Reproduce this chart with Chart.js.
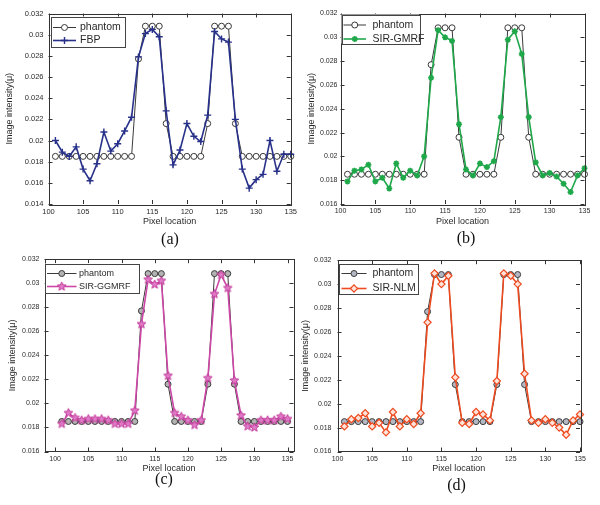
<!DOCTYPE html>
<html>
<head>
<meta charset="utf-8">
<script src="https://cdn.jsdelivr.net/npm/chart.js@4.4.0/dist/chart.umd.min.js"></script>
<style>
  body { margin: 0; background: #fff; width: 600px; height: 505px; position: relative; overflow: hidden; }
  canvas { position: absolute; }
</style>
</head>
<body>
<canvas id="panelA" width="300" height="250" style="left:0;top:0"></canvas>
<canvas id="panelB" width="300" height="250" style="left:300px;top:0"></canvas>
<canvas id="panelC" width="300" height="255" style="left:0;top:250px"></canvas>
<canvas id="panelD" width="300" height="255" style="left:300px;top:250px"></canvas>
<script>
// pixel positions along the profile
const pixelLoc = [101, 102, 103, 104, 105, 106, 107, 108, 109, 110, 111, 112, 113, 114, 115, 116, 117, 118,
  119, 120, 121, 122, 123, 124, 125, 126, 127, 128, 129, 130, 131, 132, 133, 134, 135];

const phantom = [0.0185, 0.0185, 0.0185, 0.0185, 0.0185, 0.0185, 0.0185, 0.0185, 0.0185, 0.0185, 0.0185, 0.0185,
  0.0277, 0.0308, 0.0308, 0.0308, 0.0216, 0.0185, 0.0185, 0.0185, 0.0185, 0.0185, 0.0216, 0.0308, 0.0308, 0.0308,
  0.0216, 0.0185, 0.0185, 0.0185, 0.0185, 0.0185, 0.0185, 0.0185, 0.0185];

const fbp = [0.0200, 0.0189, 0.0185, 0.0194, 0.0173, 0.0162, 0.0178, 0.0208, 0.0190, 0.0197, 0.0209, 0.0222,
  0.0279, 0.0301, 0.0305, 0.0298, 0.0228, 0.0177, 0.0191, 0.0216, 0.0204, 0.0199, 0.0224, 0.0303, 0.0296, 0.0293,
  0.0220, 0.0173, 0.0155, 0.0163, 0.0168, 0.0200, 0.0171, 0.0187, 0.0187];

const sirGmrf = [0.0179, 0.0188, 0.0189, 0.0193, 0.0179, 0.0182, 0.0173, 0.0194, 0.0182, 0.0188, 0.0184, 0.0200,
  0.0266, 0.0306, 0.0300, 0.0297, 0.0227, 0.0189, 0.0184, 0.0194, 0.0191, 0.0196, 0.0233, 0.0298, 0.0305, 0.0286,
  0.0233, 0.0195, 0.0184, 0.0186, 0.0183, 0.0177, 0.0170, 0.0184, 0.0190];

const sirGgmrf = [0.0183, 0.0192, 0.0188, 0.0186, 0.0187, 0.0187, 0.0187, 0.0186, 0.0183, 0.0183, 0.0183, 0.0194,
  0.0266, 0.0303, 0.0299, 0.0302, 0.0223, 0.0192, 0.0189, 0.0186, 0.0182, 0.0186, 0.0221, 0.0291, 0.0307, 0.0296,
  0.0219, 0.0190, 0.0181, 0.0180, 0.0186, 0.0186, 0.0186, 0.0189, 0.0187];

const sirNlm = [0.0181, 0.0187, 0.0188, 0.0192, 0.0181, 0.0184, 0.0176, 0.0193, 0.0181, 0.0187, 0.0183, 0.0192,
  0.0268, 0.0309, 0.0300, 0.0307, 0.0222, 0.0184, 0.0183, 0.0193, 0.0191, 0.0186, 0.0219, 0.0309, 0.0307, 0.0300,
  0.0225, 0.0186, 0.0184, 0.0187, 0.0184, 0.0180, 0.0174, 0.0186, 0.0191];

const xTicks = [100, 105, 110, 115, 120, 125, 130, 135];
const yTicksA = [0.014, 0.016, 0.018, 0.02, 0.022, 0.024, 0.026, 0.028, 0.03, 0.032];
const yTicksBCD = [0.016, 0.018, 0.02, 0.022, 0.024, 0.026, 0.028, 0.03, 0.032];

const TXT = '#2a2a2a';
const SANS = "'Liberation Sans', Arial, sans-serif";

// pentagram marker for SIR-GGMRF
function pentagram(r, fill, stroke) {
  const c = document.createElement('canvas');
  const s = Math.ceil(r * 2 + 3);
  c.width = s; c.height = s;
  const g = c.getContext('2d');
  g.beginPath();
  for (let i = 0; i < 10; i++) {
    const a = -Math.PI / 2 + i * Math.PI / 5;
    const rr = i % 2 ? r * 0.45 : r;
    g.lineTo(s / 2 + rr * Math.cos(a), s / 2 + rr * Math.sin(a));
  }
  g.closePath();
  g.fillStyle = fill; g.fill();
  g.strokeStyle = stroke; g.lineWidth = 1; g.stroke();
  return c;
}

function toPts(vals) {
  return pixelLoc.map((p, i) => ({ x: p, y: vals[i] }));
}

// axes box with inward ticks, legend box, caption
const matlabPlugin = {
  id: 'matlab',
  afterDraw(chart) {
    const o = chart.options.plugins.matlab;
    const ctx = chart.ctx;
    const a = chart.chartArea;
    const xs = chart.scales.x, ys = chart.scales.y;
    ctx.save();
    ctx.strokeStyle = '#333';
    ctx.lineWidth = 1;
    ctx.strokeRect(Math.round(a.left) + 0.5, Math.round(a.top) + 0.5,
      Math.round(a.right - a.left), Math.round(a.bottom - a.top));
    ctx.beginPath();
    xs.ticks.forEach(t => {
      const px = Math.round(xs.getPixelForValue(t.value)) + 0.5;
      ctx.moveTo(px, a.bottom); ctx.lineTo(px, a.bottom - 4);
      ctx.moveTo(px, a.top); ctx.lineTo(px, a.top + 4);
    });
    ys.ticks.forEach(t => {
      const py = Math.round(ys.getPixelForValue(t.value)) + 0.5;
      ctx.moveTo(a.left, py); ctx.lineTo(a.left + 4, py);
      ctx.moveTo(a.right, py); ctx.lineTo(a.right - 4, py);
    });
    ctx.stroke();

    // legend
    const L = o.legend;
    ctx.fillStyle = '#fff';
    ctx.fillRect(L.x0, L.y0, L.x1 - L.x0, L.y1 - L.y0);
    ctx.strokeStyle = '#444';
    ctx.strokeRect(Math.round(L.x0) + 0.5, Math.round(L.y0) + 0.5, Math.round(L.x1 - L.x0), Math.round(L.y1 - L.y0));
    ctx.font = L.size + 'px ' + SANS;
    ctx.textBaseline = 'middle';
    chart.data.datasets.forEach((ds, i) => {
      const y = L.rows[i];
      ctx.strokeStyle = ds.borderColor;
      ctx.lineWidth = ds.borderWidth;
      ctx.beginPath();
      ctx.moveTo(L.lineX0, y); ctx.lineTo(L.lineX1, y);
      ctx.stroke();
      ctx.fillStyle = ds.pointBackgroundColor;
      ctx.strokeStyle = ds.pointBorderColor;
      ctx.lineWidth = ds.pointBorderWidth;
      Chart.helpers.drawPoint(ctx, { pointStyle: ds.pointStyle, radius: ds.pointRadius, rotation: 0, borderWidth: ds.pointBorderWidth },
        (L.lineX0 + L.lineX1) / 2, y);
      ctx.fillStyle = TXT;
      ctx.textAlign = 'left';
      ctx.fillText(ds.label, L.textX, y);
    });

    // caption
    ctx.font = "16px 'Liberation Serif', 'Times New Roman', serif";
    ctx.fillStyle = '#111';
    ctx.textAlign = 'center';
    ctx.textBaseline = 'middle';
    ctx.fillText(o.caption.text, o.caption.x, o.caption.y);
    ctx.restore();
  }
};

function makePanel(id, p) {
  const cv = document.getElementById(id);
  const W = cv.width, H = cv.height;
  const phantomDs = {
    label: 'phantom',
    data: toPts(phantom),
    borderColor: '#3a3a3a',
    borderWidth: 1,
    pointStyle: 'circle',
    pointRadius: 3,
    pointBackgroundColor: p.circleFill,
    pointBorderColor: '#3a3a3a',
    pointBorderWidth: 1,
    order: 2
  };
  const reconDs = Object.assign({
    label: p.label,
    data: toPts(p.values),
    borderWidth: 1.6,
    order: 1
  }, p.style);
  [phantomDs, reconDs].forEach(d => { d.tension = 0; d.clip = false; d.pointHoverRadius = d.pointRadius; });

  return new Chart(cv.getContext('2d'), {
    type: 'line',
    data: { datasets: [phantomDs, reconDs] },
    options: {
      responsive: false,
      animation: false,
      events: [],
      layout: { padding: { left: 0, top: p.plot.t, right: W - p.plot.r, bottom: 0 } },
      plugins: {
        legend: { display: false },
        tooltip: { enabled: false },
        matlab: { legend: p.legend, caption: p.caption }
      },
      scales: {
        x: {
          type: 'linear',
          min: p.xMin, max: p.xMax,
          afterBuildTicks: s => { s.ticks = xTicks.map(v => ({ value: v })); },
          afterFit: s => { s.height = H - p.plot.b; },
          grid: { display: false, drawTicks: false },
          border: { display: false },
          ticks: { padding: 3, color: TXT, font: { family: SANS, size: p.tickSize }, maxRotation: 0, autoSkip: false, callback: v => String(v) },
          title: { display: true, text: 'Pixel location', color: TXT, font: { family: SANS, size: 9 }, padding: { top: 0, bottom: p.xTitlePad } }
        },
        y: {
          min: p.yTicks[0], max: p.yTicks[p.yTicks.length - 1],
          afterBuildTicks: s => { s.ticks = p.yTicks.map(v => ({ value: v })); },
          afterFit: s => { s.width = p.plot.l; },
          grid: { display: false, drawTicks: false },
          border: { display: false },
          ticks: { padding: p.yTickPad, color: TXT, font: { family: SANS, size: p.tickSize }, autoSkip: false, callback: v => String(+v.toFixed(3)) },
          title: { display: true, text: 'Image intensity(\u03bc)', color: TXT, font: { family: SANS, size: 9 }, padding: { top: p.yTitlePad, bottom: 0 } }
        }
      }
    },
    plugins: [matlabPlugin]
  });
}

makePanel('panelA', {
  label: 'FBP', values: fbp,
  style: { borderColor: '#28318a', pointStyle: 'cross', pointRadius: 3.5, pointBackgroundColor: '#28318a', pointBorderColor: '#28318a', pointBorderWidth: 1.4 },
  circleFill: '#ffffff',
  plot: { l: 48.5, r: 292.5, t: 13.5, b: 204 },
  xMin: 100, xMax: 135, yTicks: yTicksA,
  tickSize: 7.5, yTickPad: 5, xTitlePad: 23, yTitlePad: 4.5,
  legend: { x0: 50.5, y0: 16.5, x1: 124, y1: 46.5, lineX0: 53, lineX1: 76, textX: 80, size: 10.5, rows: [27.5, 40.5] },
  caption: { text: '(a)', x: 170, y: 240 }
});

makePanel('panelB', {
  label: 'SIR-GMRF', values: sirGmrf,
  style: { borderColor: '#1fa84a', pointStyle: 'star', pointRadius: 3, pointBackgroundColor: '#1fa84a', pointBorderColor: '#1fa84a', pointBorderWidth: 1.6 },
  circleFill: '#ffffff',
  plot: { l: 40.5, r: 284.5, t: 13.5, b: 204 },
  xMin: 100, xMax: 135, yTicks: yTicksBCD,
  tickSize: 7, yTickPad: 3, xTitlePad: 23, yTitlePad: 6,
  legend: { x0: 41.5, y0: 14.5, x1: 119, y1: 43.5, lineX0: 43.5, lineX1: 66, textX: 72.5, size: 10.5, rows: [25, 39] },
  caption: { text: '(b)', x: 166, y: 238.5 }
});

makePanel('panelC', {
  label: 'SIR-GGMRF', values: sirGgmrf,
  style: { borderColor: '#cc47a6', pointStyle: pentagram(4.6, '#e07ac6', '#c2399a'), pointRadius: 4.6, pointBackgroundColor: '#e07ac6', pointBorderColor: '#c2399a', pointBorderWidth: 1 },
  circleFill: '#b3b3b3',
  plot: { l: 44.5, r: 293.5, t: 9, b: 201.5 },
  xMin: 98.4, xMax: 135.9, yTicks: yTicksBCD,
  tickSize: 7, yTickPad: 5, xTitlePad: 31.5, yTitlePad: 7.5,
  legend: { x0: 44.5, y0: 13.5, x1: 138.5, y1: 42.5, lineX0: 47, lineX1: 76.5, textX: 79, size: 9, rows: [23.5, 36.5] },
  caption: { text: '(c)', x: 164, y: 230 }
});

makePanel('panelD', {
  label: 'SIR-NLM', values: sirNlm,
  style: { borderColor: '#ee4a20', pointStyle: 'rectRot', pointRadius: 3.6, pointBackgroundColor: '#fde3d8', pointBorderColor: '#ee4a20', pointBorderWidth: 1.2 },
  circleFill: '#b4b8c4',
  plot: { l: 37.5, r: 280, t: 9, b: 201.5 },
  xMin: 100, xMax: 135, yTicks: yTicksBCD,
  tickSize: 7, yTickPad: 6, xTitlePad: 31.5, yTitlePad: 0.5,
  legend: { x0: 39, y0: 14, x1: 117.5, y1: 44, lineX0: 41.5, lineX1: 66.5, textX: 72.5, size: 10.5, rows: [23.5, 38.5] },
  caption: { text: '(d)', x: 156.5, y: 235.5 }
});
</script>
</body>
</html>
